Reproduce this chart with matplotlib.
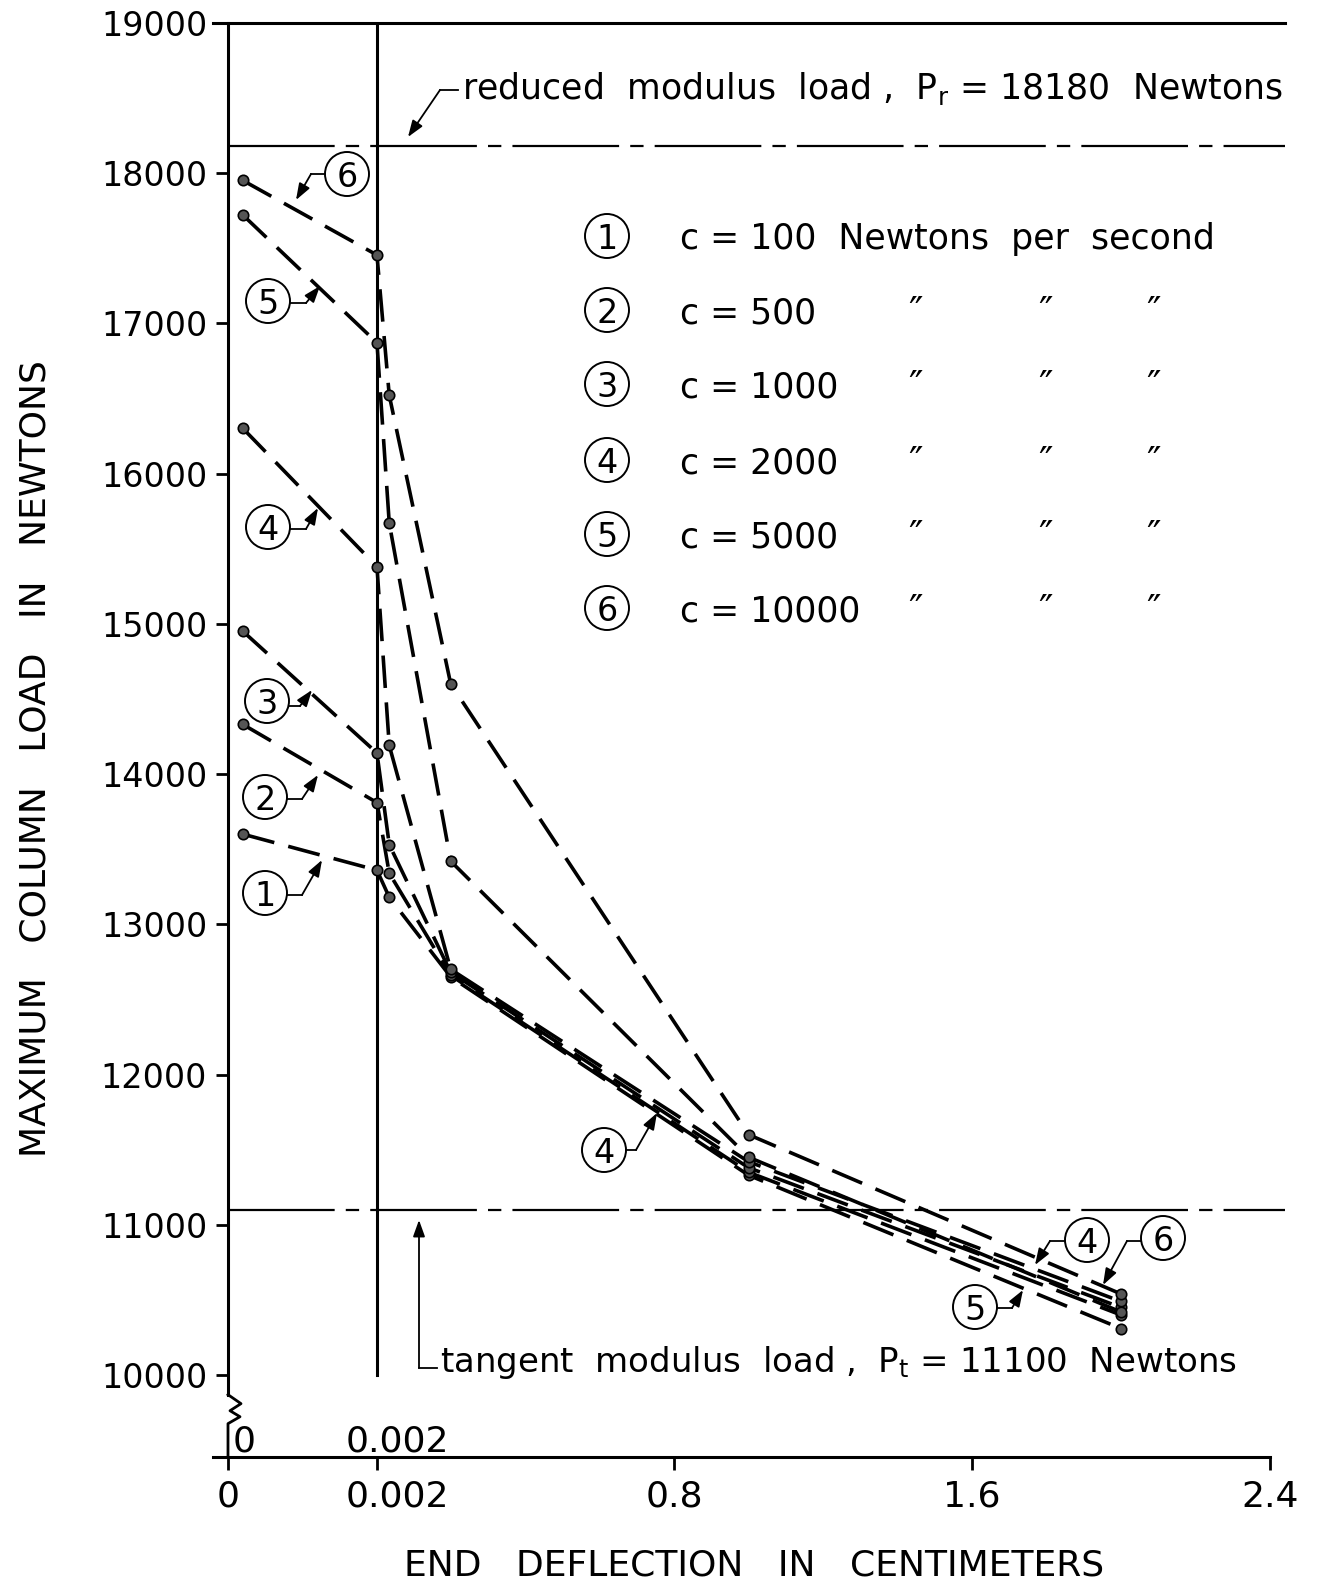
import matplotlib
matplotlib.use('Agg')
import matplotlib.pyplot as plt
import numpy as np
from matplotlib.lines import Line2D
from matplotlib.patches import Circle

W, H = 1321, 1586
DPI = 100
FS = 24

# Loading rates c (Newtons per second), curve numbers 1..6
CURVE_IDS = [1, 2, 3, 4, 5, 6]
RATES = [100, 500, 1000, 2000, 5000, 10000]

# End deflection (cm) at which the maxima were read
DEFLECTION = [0.0002, 0.002, 0.035, 0.2, 1.0, 2.0]

# Maximum column load (N) for each curve
LOAD_1 = [13600, 13360, 13180, 12650, 11330, 10310]
LOAD_2 = [14330, 13810, 13340, 12660, 11350, 10400]
LOAD_3 = [14950, 14140, 13530, 12680, 11380, 10450]
LOAD_4 = [16300, 15380, 14190, 12700, 11420, 10490]
LOAD_5 = [17720, 16870, 15670, 13420, 11450, 10420]
LOAD_6 = [17950, 17454, 16520, 14600, 11600, 10540]
LOADS = [LOAD_1, LOAD_2, LOAD_3, LOAD_4, LOAD_5, LOAD_6]

P_R = 18180  # reduced modulus load
P_T = 11100  # tangent modulus load

X_TICKS = [0, 0.002, 0.8, 1.6, 2.4]
X_TICK_LABELS = ['0', '', '0.8', '1.6', '2.4']
Y_TICKS = list(range(10000, 19001, 1000))

# broken x scale: 0..0.002 stretched, then linear
SEG = 0.5


def fwd(x):
    x = np.asarray(x, dtype=float)
    return np.where(x <= 0.002, x / 0.002 * SEG, SEG + (x - 0.002) / 0.8)


def inv(u):
    u = np.asarray(u, dtype=float)
    return np.where(u <= SEG, u / SEG * 0.002, 0.002 + (u - SEG) * 0.8)


def P(px, py):
    # reference pixel -> inches (for fig.dpi_scale_trans)
    return (px / DPI, (H - py) / DPI)


plt.rcParams['font.family'] = ['DejaVu Sans']
fig = plt.figure(figsize=(W / DPI, H / DPI), dpi=DPI)
ax = fig.add_axes([213.1 / W, 129 / H, 1056.9 / W, 1434.3 / H])
ax.set_xscale('function', functions=(fwd, inv))
ax.set_xlim(-0.0002, 2.4)
ax.set_ylim(9455, 19000)

for s in ['top', 'right']:
    ax.spines[s].set_visible(False)
ax.spines['left'].set_position(('data', 0))
ax.spines['left'].set_bounds(9870, 19000)
ax.spines['left'].set_linewidth(2.2)
ax.spines['bottom'].set_linewidth(2.2)

ax.set_yticks(Y_TICKS)
ax.set_yticklabels([str(v) for v in Y_TICKS])
ax.set_xticks(X_TICKS)
ax.set_xticklabels(X_TICK_LABELS)
ax.tick_params(axis='y', direction='out', length=9, width=2, pad=6, labelsize=FS)
ax.tick_params(axis='x', direction='out', length=9, width=2, pad=7.5, labelsize=26)

# shifted "0.002" labels (below and above the axis)
ax.annotate('0.002', xy=(0.002, 9455), xytext=(14.4, -16.5), textcoords='offset points',
            ha='center', va='top', fontsize=26)
ax.annotate('0.002', xy=(0.002, 9455), xytext=(14.4, 4), textcoords='offset points',
            ha='center', va='baseline', fontsize=26)
ax.annotate('0', xy=(0, 9455), xytext=(3.6, 4), textcoords='offset points',
            ha='left', va='baseline', fontsize=26)

# y-axis break
zz_x = np.array([0, 13, 2, 12, 0, 0]) * 0.002 / 149
zz_y = [9870, 9810, 9763, 9723, 9677, 9455]
ax.plot(zz_x, zz_y, color='k', lw=2, clip_on=False)

# frame lines
ax.plot([-0.0002, 2.44], [19000, 19000], color='k', lw=2.2, clip_on=False)
ax.plot([0.002, 0.002], [10000, 19000], color='k', lw=2.2)
for load in [P_R, P_T]:
    ax.plot([0, 2.44], [load, load], color='k', lw=1.6, clip_on=False,
            linestyle=(0, (48, 5, 6, 5)))

# curves
for load in LOADS:
    ax.plot(DEFLECTION, load, color='k', lw=2.6, linestyle=(0, (9, 4)),
            marker='o', ms=7.5, mfc='#555555', mec='k', mew=1.2, clip_on=False)

T = fig.dpi_scale_trans
arrow = dict(arrowstyle='-|>,head_length=0.5,head_width=0.18', color='k', lw=1.3,
             mutation_scale=20, shrinkA=0, shrinkB=0)


def leader(pts):
    xs = [P(*p)[0] for p in pts[:-1]]
    ys = [P(*p)[1] for p in pts[:-1]]
    fig.add_artist(Line2D(xs, ys, transform=T, color='k', lw=1.3))
    ax.annotate('', xy=P(*pts[-1]), xycoords=T, xytext=P(*pts[-2]), textcoords=T,
                arrowprops=arrow)


def circled(num, cx, cy):
    fig.add_artist(Circle(P(cx, cy), 0.22, transform=T, fill=False, lw=1.4, color='k'))
    fig.text(*P(cx, cy), str(num), transform=T, ha='center', va='center_baseline',
             fontsize=FS)


# curve labels with leaders
circled(6, 347, 174); leader([(325, 174), (311, 174), (296, 200)])
circled(5, 268, 301); leader([(290, 303), (306, 303), (320, 286)])
circled(4, 268, 527); leader([(290, 529), (306, 529), (318, 508)])
circled(3, 267, 701); leader([(289, 706), (300, 706), (312, 690)])
circled(2, 265, 797); leader([(287, 799), (302, 799), (318, 775)])
circled(1, 265, 893); leader([(287, 895), (302, 895), (322, 860)])
circled(4, 604, 1150); leader([(626, 1150), (636, 1150), (657, 1113)])
circled(4, 1087, 1240); leader([(1065, 1241), (1050, 1241), (1035, 1265)])
circled(6, 1163, 1238); leader([(1141, 1241), (1127, 1241), (1103, 1285)])
circled(5, 975, 1307); leader([(997, 1308), (1012, 1308), (1023, 1290)])

# legend block
ROW_Y = [236, 310, 384, 460, 534, 608]
for cid, rate, ry in zip(CURVE_IDS, RATES, ROW_Y):
    circled(cid, 607, ry)
    if cid == 1:
        label = f'c = {rate}  Newtons  per  second'
    else:
        label = f'c = {rate}'
        for dx in [915, 1045, 1153]:
            fig.text(*P(dx, ry), '\u2033', transform=T, ha='center',
                     va='center_baseline', fontsize=28)
    fig.text(*P(680, ry), label, transform=T, ha='left', va='center_baseline',
             fontsize=25)

# reduced / tangent modulus annotations
fig.text(*P(462, 99), 'reduced  modulus  load ,  P$_\\mathregular{r}$ = 18180  Newtons',
         transform=T, ha='left', va='baseline', fontsize=25)
leader([(458, 90), (440, 90), (408, 137)])
fig.text(*P(440, 1372), 'tangent  modulus  load ,  P$_\\mathregular{t}$ = 11100  Newtons',
         transform=T, ha='left', va='baseline', fontsize=24.5)
leader([(437, 1368), (419, 1368), (419, 1220)])

# axis titles
fig.text(*P(36, 759), 'MAXIMUM   COLUMN   LOAD   IN   NEWTONS', transform=T, rotation=90,
         ha='center', va='center', fontsize=26)
fig.text(*P(754, 1566), 'END   DEFLECTION   IN   CENTIMETERS', transform=T,
         ha='center', va='center', fontsize=26)

fig.savefig('out.png', dpi=DPI)
